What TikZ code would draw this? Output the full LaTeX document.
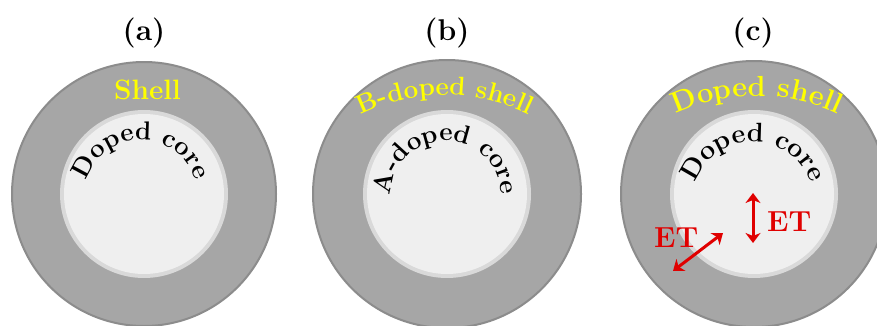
\documentclass[tikz,border=0pt]{standalone}
\usepackage{fontspec}
\usetikzlibrary{arrows.meta,decorations.text}
\definecolor{shellgray}{HTML}{A6A6A6}
\definecolor{shelledge}{HTML}{8C8C8C}
\definecolor{corering}{HTML}{D9D9D9}
\definecolor{corefill}{HTML}{EFEFEF}
\definecolor{txtyellow}{HTML}{FFFF00}
\definecolor{etred}{HTML}{E00000}
\begin{document}
\begin{tikzpicture}[x=1pt,y=1pt,
  shellc/.style={fill=shellgray, draw=shelledge, line width=2pt},
  ringc/.style={fill=corering},
  corec/.style={fill=corefill},
  title/.style={font=\fontsize{30}{30}\selectfont\bfseries, inner sep=0pt},
  ylabel/.style={font=\fontsize{28}{28}\selectfont\bfseries, text=txtyellow, inner sep=0pt, anchor=base},
  etlabel/.style={font=\fontsize{29}{29}\selectfont\bfseries, text=etred, inner sep=0pt, anchor=base west},
  etarrow/.style={draw=etred, line width=3pt, {Stealth[length=10pt,width=15pt,inset=3pt]}-{Stealth[length=10pt,width=15pt,inset=3pt]}},
  arctext/.style={decorate, decoration={text along path, text align=center, text color=#1}}
]
\useasboundingbox (0,0) rectangle (877,325);
\clip (0,0) rectangle (877,325);
\fill[white] (0,0) rectangle (877,325);

% ---------- (a)
\coordinate (ca) at (144,131);
\draw[shellc] (ca) circle[radius=132];
\fill[ringc] (ca) circle[radius=84];
\fill[corec] (ca) circle[radius=80];
\node[title] (ta) at (144,292) {(a)};
\node[ylabel] (sa) at (147.5,226) {Shell};
\path[arctext=black, decoration={text={|\fontsize{26}{26}\selectfont\bfseries|Doped core}}]
  (84,128) arc[start angle=180, end angle=0, radius=57];

% ---------- (b)
\coordinate (cb) at (447,131);
\draw[shellc] (cb) circle[radius=134];
\fill[ringc] (cb) circle[radius=84];
\fill[corec] (cb) circle[radius=80];
\node[title] (tb) at (447,292) {(b)};
\path[arctext=txtyellow, decoration={text={|\fontsize{26}{26}\selectfont\bfseries|B-doped shell}}]
  (255,40) arc[start angle=180, end angle=0, radius=190];
\path[arctext=black, decoration={text={|\fontsize{26}{26}\selectfont\bfseries|A-doped core}}]
  (391,129) arc[start angle=180, end angle=0, radius=55];

% ---------- (c)
\coordinate (cc) at (754,131);
\draw[shellc] (cc) circle[radius=133];
\fill[ringc] (cc) circle[radius=84];
\fill[corec] (cc) circle[radius=80];
\node[title] (tc) at (753,292) {(c)};
\path[arctext=txtyellow, decoration={text={|\fontsize{29}{29}\selectfont\bfseries|Doped shell}}]
  (567,39) arc[start angle=180, end angle=0, radius=190];
\path[arctext=black, decoration={text={|\fontsize{27}{27}\selectfont\bfseries|Doped core}}]
  (692,122) arc[start angle=180, end angle=0, radius=61];

\coordinate (v1) at (753,132);
\coordinate (v2) at (753,82);
\draw[etarrow] (v1) -- (v2);
\node[etlabel] (et1) at (767,94) {ET};
\coordinate (d1) at (673,54);
\coordinate (d2) at (723,92);
\draw[etarrow] (d1) -- (d2);
\node[etlabel] (et2) at (654,78) {ET};
\end{tikzpicture}
\end{document}
